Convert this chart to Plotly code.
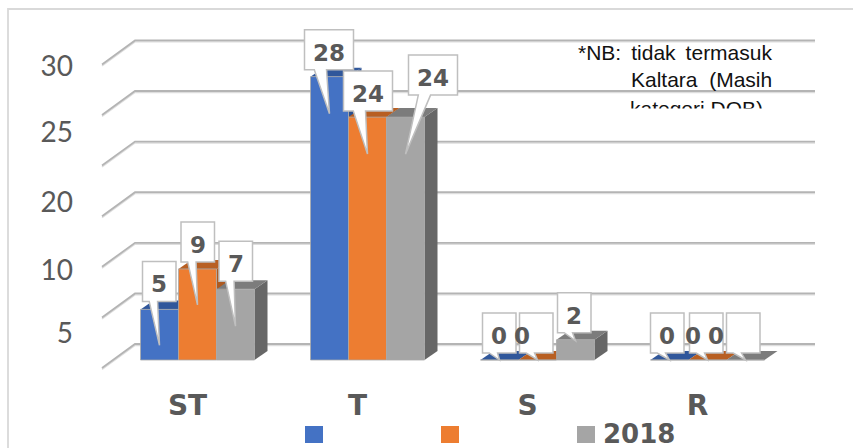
import plotly.graph_objects as go

categories = ["ST", "T", "S", "R"]
series_names = ["", "", "2018"]
values_a = [5, 28, 0, 0]
values_b = [9, 24, 0, 0]
values_c = [7, 24, 2, 0]
y_gridlines = [0, 5, 10, 15, 20, 25, 30]
y_tick_text = ["5", "10", "20", "25", "30"]
y_tick_pos = [2.67, 8.89, 15.6, 22.5, 29.0]

W, H = 853, 448
ML, MB = 76, 63
PX_Y = 10.12   # pixels per value unit
PX_X = 170.0   # pixels per category
BASE_PX = 360.0
C0_PX = 197.5
BAR_PX = 38.0
all_values = [values_a, values_b, values_c]
front = ["#4472C4", "#ED7D31", "#A5A5A5"]
top_c = ["#30579B", "#B85F22", "#7C7C7C"]
side_c = ["#2C5190", "#AE5A20", "#676767"]
GREY = "#595959"

dxv = lambda p: p / PX_X
dyv = lambda p: p / PX_Y
xp = lambda p: (p - C0_PX) / PX_X        # pixel -> axis x
yp = lambda p: (BASE_PX - p) / PX_Y      # pixel -> axis y
pap_x = lambda p: (p - ML) / (W - ML)
pap_y = lambda p: (H - MB - p) / (H - MB)

fig = go.Figure()
for j, vals in enumerate(all_values):
    fig.add_bar(x=list(range(len(categories))), y=vals, name=series_names[j],
                marker=dict(color=front[j], line=dict(color="#a9a9a9", width=0.8)),
                showlegend=False, hoverinfo="x+y")

shapes = []
def path(pts):
    return "M " + " L ".join(f"{a:.5f} {b:.5f}" for a, b in pts) + " Z"

# walls: gridlines on the back wall with their slanted side-wall part
for v in y_gridlines:
    back = v + dyv(16)
    fr = v - dyv(8)
    for off, col, w in ((1.4, "#dedede", 1.5), (0, "#b4b4b4", 1.8)):
        shapes.append(dict(type="path", xref="x", yref="y", layer="below",
                           path=f"M {xp(102):.5f} {fr - dyv(off):.5f} L {xp(135):.5f} {back - dyv(off):.5f} L {xp(815):.5f} {back - dyv(off):.5f}",
                           line=dict(color=col, width=w)))

# bar depth: sides and tops, drawn under the bar traces
DX, DY = dxv(13), dyv(9)
for j, vals in enumerate(all_values):
    for i, v in enumerate(vals):
        c = i + (j - 1) * dxv(BAR_PX)
        x0, x1 = c - dxv(BAR_PX / 2), c + dxv(BAR_PX / 2)
        if v > 0:
            shapes.append(dict(type="path", xref="x", yref="y", layer="below",
                               path=path([(x1, 0), (x1 + DX, DY), (x1 + DX, v + DY), (x1, v)]),
                               fillcolor=side_c[j], line=dict(width=0)))
        shapes.append(dict(type="path", xref="x", yref="y", layer="below",
                           path=path([(x0, v), (x1, v), (x1 + DX, v + DY), (x0 + DX, v + DY)]),
                           fillcolor=top_c[j], line=dict(width=0)))

# callouts: (box left from bar centre, box bottom above bar top, text shift x, tip below top)
callouts = [
    [(-17, 8, 0, 36), (-25, 7, 0, 37), (-17, 7, 0, 0), (-19, 7, 0, 0)],
    [(-16.5, 7, 0, 36), (-24, 6, 0, 37), (-18, 7, -14, 0), (-18, 7, -13, 0)],
    [(-16.5, 8, 0, 37), (3, 22, 0, 37), (-18, 7, 0, 1), (-19, 7, -27, 0)],
]
annotations = []
for j, vals in enumerate(all_values):
    for i, v in enumerate(vals):
        left, gap, tx, tip = callouts[j][i]
        cx = C0_PX + i * PX_X + (j - 1) * BAR_PX
        topy = BASE_PX - v * PX_Y
        w = 49 if v >= 10 else 33.5
        L, R, B, T = cx + left, cx + left + w, topy - gap, topy - gap - 40
        pts = [(L, T), (R, T), (R, B), (L + .45 * w, B), (cx, topy + tip), (L + .2 * w, B), (L, B)]
        shapes.append(dict(type="path", xref="x", yref="y", layer="above",
                           path=path([(xp(a), yp(b)) for a, b in pts]),
                           fillcolor="white", line=dict(color="#bfbfbf", width=1.5)))
for j, vals in enumerate(all_values):
    for i, v in enumerate(vals):
        left, gap, tx, tip = callouts[j][i]
        cx = C0_PX + i * PX_X + (j - 1) * BAR_PX
        topy = BASE_PX - v * PX_Y
        w = 49 if v >= 10 else 33.5
        annotations.append(dict(text=f"<b>{v}</b>", xref="x", yref="y",
                                x=xp(cx + left + w / 2 + tx), y=yp(topy - gap - 17),
                                showarrow=False, xanchor="center", yanchor="middle", borderpad=0,
                                font=dict(family="DejaVu Sans", size=23, color=GREY)))

# chart frame, clipped by the picture edge
shapes.append(dict(type="path", xref="paper", yref="paper", layer="below",
                   path=f"M {pap_x(8)} {pap_y(H + 5)} L {pap_x(8)} {pap_y(9)} L {pap_x(W + 5)} {pap_y(9)}",
                   line=dict(color="#d9d9d9", width=1.8)))

# legend
for j, lx in enumerate((305, 441, 577)):
    shapes.append(dict(type="rect", xref="paper", yref="paper", layer="above",
                       x0=pap_x(lx), x1=pap_x(lx + 18), y0=pap_y(426), y1=pap_y(443),
                       fillcolor=front[j], line=dict(width=0)))
    if series_names[j]:
        annotations.append(dict(text=f"<b>{series_names[j]}</b>", xref="paper", yref="paper",
                                x=pap_x(lx + 25), y=pap_y(434), xanchor="left", yanchor="middle",
                                showarrow=False, borderpad=0,
                                font=dict(family="DejaVu Sans", size=26, color=GREY)))

# note
NOTE = dict(family="Liberation Sans", size=21, color="#111111")
for txt, ax, xa, py in (("*NB:\u00a0\u2009tidak\u00a0\u2009termasuk", 773, "right", 52),
                        ("Kaltara\u00a0\u00a0(Masih", 773, "right", 80),
                        ("kategori DOB)", 629, "left", 108)):
    annotations.append(dict(text=txt, xref="paper", yref="paper", x=pap_x(ax), y=pap_y(py),
                            xanchor=xa, yanchor="middle", showarrow=False, borderpad=0, font=NOTE))
annotations.append(dict(text=" ", xref="paper", yref="paper", x=pap_x(700), y=pap_y(108),
                        xanchor="center", yanchor="top", showarrow=False, borderpad=0,
                        bgcolor="white", width=170, height=24, font=dict(size=12)))

fig.update_layout(
    width=W, height=H, margin=dict(l=ML, r=0, t=0, b=MB, pad=0, autoexpand=False),
    paper_bgcolor="white", plot_bgcolor="white", barmode="group",
    bargap=1 - 3 * BAR_PX / PX_X, bargroupgap=0, showlegend=False,
    shapes=shapes, annotations=annotations,
    xaxis=dict(range=[xp(ML), xp(W)], tickmode="array",
               tickvals=[i + dxv(-10) for i in range(len(categories))],
               ticktext=[f"<b>{c}</b>" for c in categories], ticklabelstandoff=1,
               tickfont=dict(family="DejaVu Sans", size=28, color=GREY),
               showgrid=False, zeroline=False, showline=False, ticks="", automargin=False),
    yaxis=dict(range=[yp(H - MB), yp(0)], tickmode="array", tickvals=y_tick_pos, ticktext=y_tick_text,
               tickfont=dict(family="Lato", size=28, color=GREY), ticklabelstandoff=2,
               showgrid=False, zeroline=False, showline=False, ticks="", automargin=False),
)
fig.write_html("out.html", config=dict(displayModeBar=False),
               post_script="document.body.style.margin='0';document.body.style.overflow='hidden';")
